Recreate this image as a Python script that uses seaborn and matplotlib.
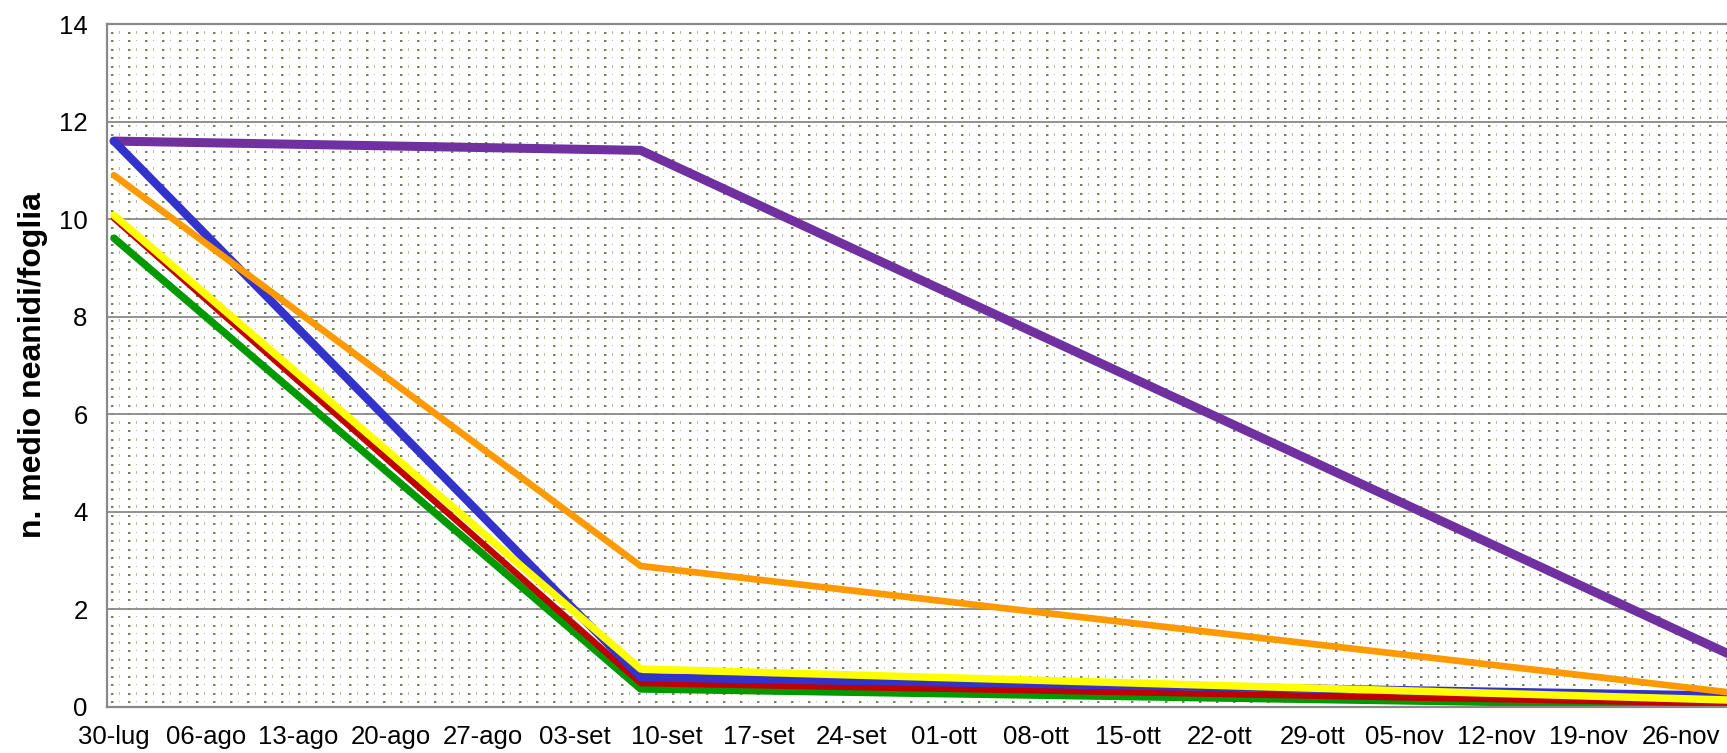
import numpy as np
import pandas as pd
import matplotlib
matplotlib.use("Agg")
import matplotlib.pyplot as plt
import matplotlib.dates as mdates
import seaborn as sns

# ---------------- data ----------------
dates = ["2012-07-30", "2012-09-08", "2012-11-30"]
viola = [11.60, 11.41, 1.04]
arancio = [10.90, 2.89, 0.29]
blu = [11.60, 0.61, 0.23]
giallo = [10.08, 0.78, 0.14]
rosso = [10.02, 0.49, 0.07]
verde = [9.61, 0.37, 0.02]

tick_labels = ["30-lug", "06-ago", "13-ago", "20-ago", "27-ago", "03-set",
               "10-set", "17-set", "24-set", "01-ott", "08-ott", "15-ott",
               "22-ott", "29-ott", "05-nov", "12-nov", "19-nov", "26-nov"]
y_ticks = [0, 2, 4, 6, 8, 10, 12, 14]

df = pd.DataFrame({"data": pd.to_datetime(dates), "viola": viola, "arancio": arancio,
                   "blu": blu, "giallo": giallo, "rosso": rosso, "verde": verde})

# ---------------- style ----------------
sns.set_theme(style="white")
plt.rcParams["font.family"] = ["Liberation Sans", "DejaVu Sans"]

W, H = 1727, 753
fig = plt.figure(figsize=(W / 100, H / 100), dpi=100)
ax = fig.add_axes([107 / W, 1 - 707 / H, (W - 107) / W, (707 - 24) / H])

x0 = mdates.date2num(pd.Timestamp("2012-07-30")) - 0.53
x1 = mdates.date2num(pd.Timestamp("2012-07-30")) + 122.5

# dotted background texture (Excel-like pattern fill)
pw, ph = W - 107, 707 - 24
img = np.ones((ph, pw, 3))
dot = np.array([115, 130, 100]) / 255
dot_l = np.array([190, 198, 175]) / 255
dash = np.array([185, 190, 160]) / 255
rows = np.round(np.arange(8, ph, 8.47)).astype(int)
cols = np.arange(4, pw, 17)
for i, r in enumerate(rows):
    for c in cols:
        img[r:r + 2, c:c + 2] = dot
        if c + 2 < pw:
            img[r:r + 2, c + 2] = dot_l
        cd = c + 8
        if cd < pw and r + 1 < ph and i % 2 == 0:
            img[r - 1:r + 2, cd] = dash
        elif cd < pw:
            img[r, cd] = dash
ax.imshow(img, extent=[x0, x1, 0, 14], aspect="auto", zorder=0,
          interpolation="nearest")

# grid lines
for yv in y_ticks[1:]:
    ax.axhline(yv, color="#898989", lw=1.3, zorder=1)

# ---------------- lines ----------------
series = [("viola", "#7030A0", 6.5, 2),
          ("verde", "#009900", 5.4, 3),
          ("rosso", "#C00000", 4.6, 4),
          ("blu", "#3333CC", 6.0, 5),
          ("giallo", "#FFFF00", 5.4, 6),
          ("arancio", "#FF9900", 4.8, 7)]
for name, col, lw, z in series:
    sns.lineplot(data=df, x="data", y=name, color=col, linewidth=lw, ax=ax,
                 zorder=z, solid_capstyle="round", solid_joinstyle="round")

# ---------------- axes ----------------
ax.set_xlim(x0, x1)
ax.set_ylim(0, 14)
ticks = pd.date_range("2012-07-30", periods=len(tick_labels), freq="7D")
ax.set_xticks(mdates.date2num(ticks))
ax.set_xticklabels(tick_labels, fontsize=18.5, color="black")
ax.set_yticks(y_ticks)
ax.set_yticklabels([str(v) for v in y_ticks], fontsize=18.5, color="black")
ax.tick_params(axis="both", length=0)
ax.tick_params(axis="y", pad=14)
ax.tick_params(axis="x", pad=13)
ax.set_xlabel("")
ax.set_ylabel("n. medio neanidi/foglia", fontsize=23, fontweight="bold", color="black")
ax.yaxis.set_label_coords(-(107 - 33) / (W - 107), 0.5)
ax.yaxis.label.set_verticalalignment("center")

for s in ["left", "bottom", "top"]:
    ax.spines[s].set_color("#898989")
    ax.spines[s].set_linewidth(1.6)
    ax.spines[s].set_zorder(10)
ax.spines["right"].set_visible(False)

fig.savefig("out.png", dpi=100)
